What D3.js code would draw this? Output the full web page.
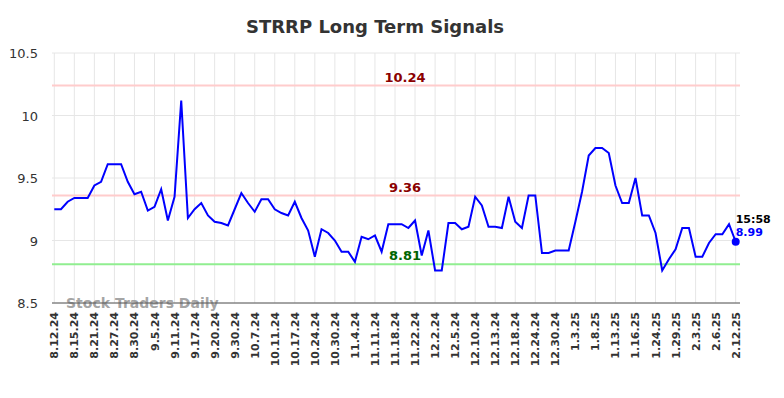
<!DOCTYPE html>
<html>
<head>
<meta charset="utf-8">
<script src="https://cdn.jsdelivr.net/npm/d3@7"></script>
<style>
  body { margin: 0; background: #fff; }
  text { font-family: "DejaVu Sans", sans-serif; }
</style>
</head>
<body>
<div id="chart"></div>
<script>
// tick labels, one every 3 points
let tickLabels = ['8.12.24', '8.15.24', '8.21.24', '8.27.24', '8.30.24', '9.5.24', '9.11.24', '9.17.24',
    '9.20.24', '9.30.24', '10.7.24', '10.11.24', '10.17.24', '10.24.24', '10.30.24', '11.4.24', '11.11.24',
    '11.18.24', '11.22.24', '12.2.24', '12.5.24', '12.10.24', '12.13.24', '12.18.24', '12.24.24', '12.30.24',
    '1.3.25', '1.8.25', '1.13.25', '1.16.25', '1.24.25', '1.29.25', '2.3.25', '2.6.25', '2.12.25'];

// closing prices
let prices = [9.25, 9.25, 9.31, 9.34, 9.34, 9.34, 9.44, 9.47, 9.61, 9.61, 9.61, 9.47, 9.37, 9.39, 9.24,
    9.27, 9.41, 9.16, 9.35, 10.12, 9.18, 9.25, 9.30, 9.20, 9.15, 9.14, 9.12, 9.25, 9.38, 9.30, 9.23,
    9.33, 9.33, 9.25, 9.22, 9.20, 9.31, 9.18, 9.08, 8.87, 9.09, 9.06, 9.00, 8.91, 8.91, 8.83, 9.03,
    9.01, 9.04, 8.91, 9.13, 9.13, 9.13, 9.10, 9.16, 8.88, 9.08, 8.76, 8.76, 9.14, 9.14, 9.09, 9.11,
    9.35, 9.28, 9.11, 9.11, 9.10, 9.35, 9.15, 9.10, 9.36, 9.36, 8.90, 8.90, 8.92, 8.92, 8.92, 9.15,
    9.39, 9.68, 9.74, 9.74, 9.70, 9.44, 9.30, 9.30, 9.50, 9.20, 9.20, 9.06, 8.76, 8.85, 8.93, 9.10,
    9.10, 8.87, 8.87, 8.98, 9.05, 9.05, 9.13, 8.99];

// signal levels
let levels = [
    {value: 10.24, line: '#ffcccc', text: '#8b0000'},
    {value: 9.36, line: '#ffcccc', text: '#8b0000'},
    {value: 8.81, line: '#90ee90', text: '#006400'}
];
let yTicks = [8.5, 9, 9.5, 10, 10.5];
let lastTime = '15:58';

let width = 784, height = 398;
let svg = d3.select('#chart').append('svg')
    .attr('width', width)
    .attr('height', height);

//画布范围
let pLeft = 52, pRight = 740, pTop = 53, pBottom = 303;
let x = d3.scaleLinear().domain([0, prices.length - 1]).range([54.3, 735.7]);
let y = d3.scaleLinear().domain([8.5, 10.5]).range([pBottom, pTop]);

// title
svg.append('text')
    .attr('x', 375).attr('y', 33)
    .attr('text-anchor', 'middle')
    .attr('font-size', 18).attr('font-weight', 'bold')
    .attr('fill', '#333')
    .text('STRRP Long Term Signals');

// grid
let tickIdx = tickLabels.map((d, i) => i * 3);
svg.append('g').selectAll('line')
    .data(tickIdx)
    .enter().append('line')
    .attr('x1', d => x(d)).attr('x2', d => x(d))
    .attr('y1', pTop).attr('y2', pBottom)
    .attr('stroke', '#e6e6e6').attr('stroke-width', 1);
svg.append('g').selectAll('line')
    .data(yTicks)
    .enter().append('line')
    .attr('x1', pLeft).attr('x2', pRight)
    .attr('y1', d => y(d)).attr('y2', d => y(d))
    .attr('stroke', '#e6e6e6').attr('stroke-width', 1);

// y labels
svg.append('g').selectAll('text')
    .data(yTicks)
    .enter().append('text')
    .attr('x', 38).attr('y', d => y(d) + 5)
    .attr('text-anchor', 'end')
    .attr('font-size', 13).attr('fill', '#333')
    .text(d => d);

// x labels, rotated
svg.append('g').selectAll('text')
    .data(tickIdx)
    .enter().append('text')
    .attr('transform', d => 'translate(' + (x(d) + 4) + ',312) rotate(-90)')
    .attr('text-anchor', 'end')
    .attr('font-size', 11).attr('font-weight', 'bold')
    .attr('fill', '#333')
    .text((d, i) => tickLabels[i]);

// watermark
svg.append('text')
    .attr('x', 66).attr('y', 308)
    .attr('font-size', 14).attr('font-weight', 'bold')
    .attr('fill', '#999').attr('fill-opacity', 0.9)
    .text('Stock Traders Daily');

// bottom axis
svg.append('line')
    .attr('x1', pLeft).attr('x2', pRight)
    .attr('y1', pBottom).attr('y2', pBottom)
    .attr('stroke', '#555').attr('stroke-width', 1);

// signal lines
let lv = svg.append('g');
lv.selectAll('line')
    .data(levels)
    .enter().append('line')
    .attr('x1', pLeft).attr('x2', pRight)
    .attr('y1', d => y(d.value)).attr('y2', d => y(d.value))
    .attr('stroke', d => d.line).attr('stroke-width', 2);
lv.selectAll('text')
    .data(levels)
    .enter().append('text')
    .attr('x', 405).attr('y', d => y(d.value) - 4)
    .attr('text-anchor', 'middle')
    .attr('font-size', 13).attr('font-weight', 'bold')
    .attr('fill', d => d.text)
    .text(d => d.value.toFixed(2));

// price line
let line = d3.line()
    .x((d, i) => x(i))
    .y(d => y(d));
svg.append('path')
    .datum(prices)
    .attr('d', line)
    .attr('fill', 'none')
    .attr('stroke', '#0000ff')
    .attr('stroke-width', 2);

// last point
let li = prices.length - 1;
svg.append('circle')
    .attr('cx', x(li)).attr('cy', y(prices[li]))
    .attr('r', 4)
    .attr('fill', '#0000ff');
svg.append('text')
    .attr('x', x(li)).attr('y', y(prices[li]) - 19)
    .attr('font-size', 11).attr('font-weight', 'bold')
    .attr('fill', '#000')
    .text(lastTime);
svg.append('text')
    .attr('x', x(li)).attr('y', y(prices[li]) - 6)
    .attr('font-size', 11).attr('font-weight', 'bold')
    .attr('fill', '#0000ff')
    .text(prices[li].toFixed(2));
</script>
</body>
</html>
